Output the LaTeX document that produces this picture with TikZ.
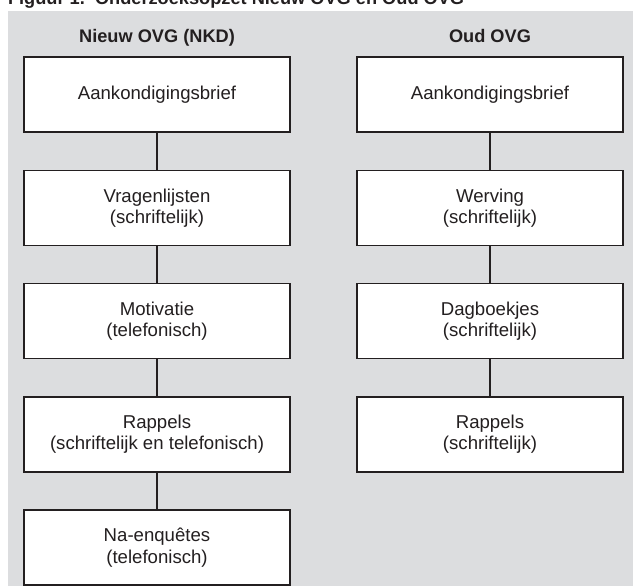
\documentclass[tikz,border=0pt]{standalone}
\usepackage{fontspec}
\setmainfont{Liberation Sans}
\usetikzlibrary{positioning}
\definecolor{panel}{RGB}{220,221,223}
\definecolor{ink}{RGB}{35,31,32}
\tikzset{box/.style={draw=ink,line width=0.75pt,fill=white,align=center,minimum height=37.5pt,minimum width=133pt,text=ink},head/.style={font=\fontsize{9.1}{10.6}\selectfont\bfseries,text=ink,anchor=base},link/.style={draw=ink,line width=0.7pt}}

\begin{document}
\begin{tikzpicture}[x=0.5pt,y=-0.5pt,node distance=18.4pt,font=\fontsize{9.3}{10.6}\selectfont]
\useasboundingbox (0,0) rectangle (633,586);
\fill[panel] (8,11) rectangle (633,586);
\node[head,anchor=base west] (title) at (1,4) {Figuur 1.\ \ Onderzoeksopzet Nieuw OVG en Oud OVG};
% nieuw OVG
\node[head] (nieuw) at (157,42.5) {Nieuw OVG (NKD)};
\node[box] (n1) at (157,94.5) {Aankondigingsbrief};
\node[box,below=of n1] (n2) {Vragenlijsten\\(schriftelijk)};
\node[box,below=of n2] (n3) {Motivatie\\(telefonisch)};
\node[box,below=of n3] (n4) {Rappels\\(schriftelijk en telefonisch)};
\node[box,below=of n4] (n5) {Na-enquêtes\\(telefonisch)};
% oud OVG
\node[head] (oud) at (490,42.5) {Oud OVG};
\node[box] (o1) at (490,94.5) {Aankondigingsbrief};
\node[box,below=of o1] (o2) {Werving\\(schriftelijk)};
\node[box,below=of o2] (o3) {Dagboekjes\\(schriftelijk)};
\node[box,below=of o3] (o4) {Rappels\\(schriftelijk)};
\draw[link] (n1)--(n2); \draw[link] (n2)--(n3); \draw[link] (n3)--(n4); \draw[link] (n4)--(n5);
\draw[link] (o1)--(o2); \draw[link] (o2)--(o3); \draw[link] (o3)--(o4);
\end{tikzpicture}
\end{document}
